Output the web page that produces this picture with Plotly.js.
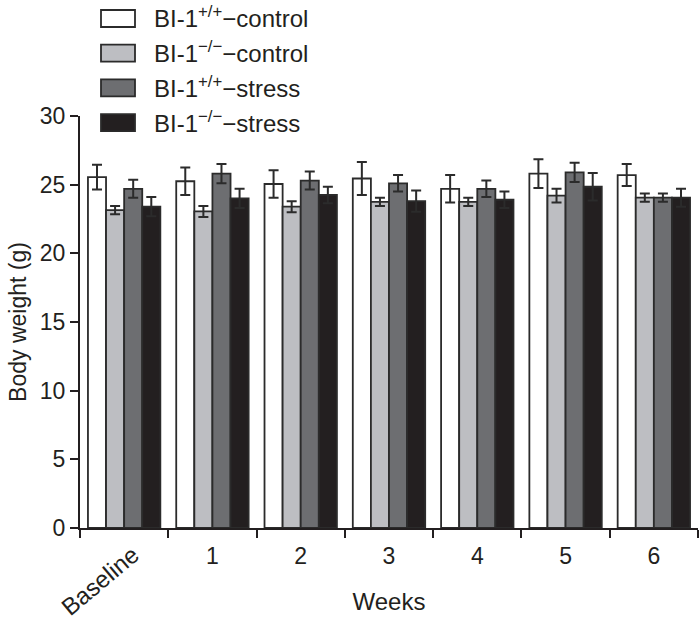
<!DOCTYPE html>
<html><head><meta charset="utf-8">
<script src="https://cdn.plot.ly/plotly-3.0.1.min.js"></script>
<style>html,body{margin:0;padding:0;background:#fff}</style>
</head><body><div id="chart" style="width:700px;height:619px"></div>
<script>
const categories = ["Baseline","1","2","3","4","5","6"];
const seriesNames = ["BI-1<sup>+/+</sup>−control","BI-1<sup>−/−</sup>−control","BI-1<sup>+/+</sup>−stress","BI-1<sup>−/−</sup>−stress"];
const wtControl = [25.55,25.25,25.05,25.45,24.7,25.8,25.7];
const koControl = [23.15,23.05,23.4,23.75,23.75,24.2,24.05];
const wtStress  = [24.7,25.8,25.3,25.1,24.7,25.9,24.05];
const koStress  = [23.4,24.0,24.25,23.8,23.9,24.85,24.05];
const wtControlErr = [0.9,1.0,1.0,1.2,1.0,1.05,0.8];
const koControlErr = [0.3,0.4,0.4,0.3,0.3,0.5,0.3];
const wtStressErr  = [0.65,0.7,0.65,0.6,0.6,0.7,0.3];
const koStressErr  = [0.7,0.7,0.6,0.78,0.6,1.0,0.65];

const values = [wtControl,koControl,wtStress,koStress];
const errs = [wtControlErr,koControlErr,wtStressErr,koStressErr];
const colors = ["#ffffff","#bdbec2","#6d6e71","#231f20"];
const ink = "#231f20";
const font = "Liberation Sans, Arial, Helvetica, sans-serif";

const traces = values.map((v,i)=>({
  type:"bar", x:categories, y:v, name:seriesNames[i],
  marker:{color:colors[i], line:{color:"#2b2b2b", width:1.8}},
  error_y:{type:"data", array:errs[i], visible:true, color:"#2b2b2b", thickness:2, width:5},
  showlegend:false
}));

const W = 618, H = 412, L = 80, B = 91;
const px = x => (x - L) / W;
const py = y => (619 - B - y) / H;
const shapes = [];
const annotations = [];
const legTop = 10, legStep = 34.7;
colors.forEach((c,i)=>{
  const y0 = legTop + i*legStep;
  shapes.push({type:"rect", xref:"paper", yref:"paper",
    x0:px(101), x1:px(135), y0:py(y0+17), y1:py(y0),
    fillcolor:c, line:{color:"#2b2b2b", width:1.8}});
  annotations.push({xref:"paper", yref:"paper", x:px(152), y:py(y0+7.5),
    xanchor:"left", yanchor:"middle", showarrow:false, text:seriesNames[i],
    font:{family:font, size:24, color:ink}});
});
// rotated first category label
annotations.push({xref:"paper", yref:"paper", x:px(147), y:py(538),
  xanchor:"right", yanchor:"top", showarrow:false, text:categories[0], textangle:-40,
  font:{family:font, size:24, color:ink}});

const layout = {
  width:700, height:619,
  margin:{l:L, r:2, t:116, b:B, pad:0},
  paper_bgcolor:"#fff", plot_bgcolor:"#fff",
  barmode:"group", bargap:0.18, bargroupgap:0,
  font:{family:font, color:ink, size:23},
  xaxis:{type:"category", range:[-0.5,6.5], tickvals:categories,
    ticktext:categories.map(c=>c==="Baseline"?" ":c),
    showline:true, linecolor:ink, linewidth:2, ticks:"outside", tickson:"boundaries",
    ticklen:8, tickwidth:2, tickcolor:ink, showgrid:false, zeroline:false,
    ticklabelstandoff:6,
    tickfont:{family:font, size:23, color:ink},
    title:{text:"Weeks", font:{family:font, size:24, color:ink}, standoff:26}},
  yaxis:{range:[0,30], tickvals:[0,5,10,15,20,25,30], showline:true, linecolor:ink, linewidth:2,
    ticks:"outside", ticklen:8, tickwidth:2, tickcolor:ink, showgrid:false, zeroline:false,
    tickfont:{family:font, size:23, color:ink},
    title:{text:"Body weight (g)", font:{family:font, size:23, color:ink}, standoff:7}},
  shapes:shapes, annotations:annotations
};
Plotly.newPlot("chart", traces, layout, {displayModeBar:false, staticPlot:true});
</script></body></html>
